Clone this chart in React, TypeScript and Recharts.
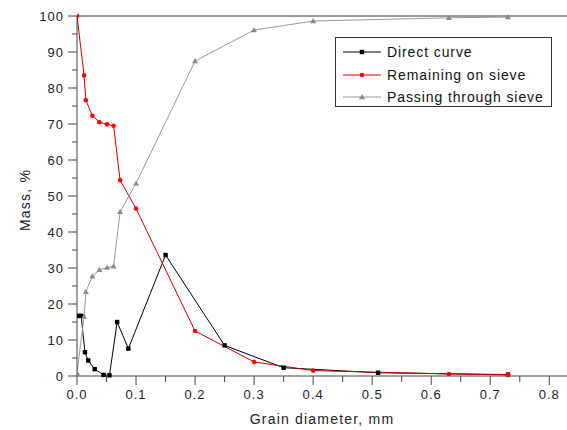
import React from "react";
import {
  LineChart,
  Line,
  XAxis,
  YAxis,
  ReferenceLine,
} from "recharts";

// grain diameter (mm) / mass (%)
const directX = [0.003, 0.007, 0.0135, 0.019, 0.03, 0.045, 0.055, 0.068, 0.087, 0.15, 0.25, 0.35, 0.51, 0.73];
const directY = [16.7, 16.7, 6.6, 4.3, 1.9, 0.3, 0.2, 15, 7.6, 33.6, 8.5, 2.3, 0.9, 0.4];

const sieveX = [0, 0.012, 0.015, 0.026, 0.038, 0.051, 0.062, 0.073, 0.1, 0.2, 0.3, 0.4, 0.63, 0.73];
const remainingY = [100, 83.5, 76.6, 72.3, 70.5, 69.9, 69.5, 54.4, 46.5, 12.5, 3.9, 1.5, 0.55, 0.3];
const passingY = [0.9, 16.5, 23.4, 27.7, 29.5, 30.1, 30.5, 45.6, 53.5, 87.5, 96.1, 98.6, 99.5, 99.7];

const xTicks = [0, 0.05, 0.1, 0.15, 0.2, 0.25, 0.3, 0.35, 0.4, 0.45, 0.5, 0.55, 0.6, 0.65, 0.7, 0.75, 0.8];
const yTicks = [0, 5, 10, 15, 20, 25, 30, 35, 40, 45, 50, 55, 60, 65, 70, 75, 80, 85, 90, 95, 100];

const direct = directX.map((x, i) => ({ x, y: directY[i] }));
const remaining = sieveX.map((x, i) => ({ x, y: remainingY[i] }));
const passing = sieveX.map((x, i) => ({ x, y: passingY[i] }));

const FONT = "'Liberation Sans', Arial, sans-serif";
const AXIS = "#444";

const series = [
  { name: "Direct curve", data: direct, color: "#000000", marker: "#000000", shape: "square" },
  { name: "Remaining on sieve", data: remaining, color: "#cc0000", marker: "#ff0000", shape: "circle" },
  { name: "Passing through sieve", data: passing, color: "#999999", marker: "#8a8a8a", shape: "triangle" },
];

function Marker({ cx, cy, shape, color }: any) {
  if (cx == null || cy == null) return null;
  if (shape === "square") return <rect x={cx - 2.2} y={cy - 2.2} width={4.4} height={4.4} fill={color} />;
  if (shape === "circle") return <circle cx={cx} cy={cy} r={2.3} fill={color} />;
  return <path d={`M${cx},${cy - 3} L${cx + 3},${cy + 2.2} L${cx - 3},${cy + 2.2} Z`} fill={color} />;
}

function XTick({ x, y, payload }: any) {
  const v = payload.value;
  const major = Math.round(v * 100) % 10 === 0;
  return (
    <g>
      <line x1={x} x2={x} y1={y} y2={y + (major ? 9 : 6)} stroke={AXIS} />
      {major && (
        <text x={x} y={y + 23} textAnchor="middle" fontSize={13} fill="#222" fontFamily={FONT} letterSpacing={1}>
          {v.toFixed(1)}
        </text>
      )}
    </g>
  );
}

function YTick({ x, y, payload }: any) {
  const v = payload.value;
  const major = v % 10 === 0;
  return (
    <g>
      <line x1={x - (major ? 9 : 5)} x2={x} y1={y} y2={y} stroke={AXIS} />
      {major && (
        <text x={x - 13} y={y + 4.5} textAnchor="end" fontSize={13} fill="#222" fontFamily={FONT} letterSpacing={1}>
          {v}
        </text>
      )}
    </g>
  );
}

function LegendBox() {
  return (
    <div
      style={{
        position: "absolute",
        left: 335,
        top: 37,
        border: "1px solid #333",
        background: "#fff",
        width: 217,
        height: 70,
        boxSizing: "border-box",
        padding: "3px 0 0 7px",
        fontFamily: FONT,
        fontSize: 14,
        letterSpacing: 0.9,
        color: "#111",
        whiteSpace: "nowrap",
      }}
    >
      {series.map((s) => (
        <div key={s.name} style={{ display: "flex", alignItems: "center", height: 22.5 }}>
          <svg width={40} height={10} style={{ marginRight: 4, flex: "none" }}>
            <line x1={0} x2={38} y1={5} y2={5} stroke={s.color} strokeWidth={1} />
            <Marker cx={19} cy={5} shape={s.shape} color={s.marker} />
          </svg>
          <span>{s.name}</span>
        </div>
      ))}
    </div>
  );
}

export default function App() {
  return (
    <div style={{ position: "absolute", left: 0, top: 0, width: 567, height: 430, background: "#fff" }}>
      <LineChart width={567} height={430} margin={{ top: 16, right: 0, bottom: 0, left: 0 }}>
        <XAxis
          type="number"
          dataKey="x"
          domain={[0, 0.83]}
          ticks={xTicks}
          allowDataOverflow
          height={54}
          tickSize={0}
          tickMargin={0}
          tickLine={false}
          stroke={AXIS}
          tick={<XTick />}
          interval={0}
        />
        <YAxis
          type="number"
          dataKey="y"
          domain={[0, 100]}
          ticks={yTicks}
          width={77}
          tickSize={0}
          tickMargin={0}
          tickLine={false}
          stroke={AXIS}
          tick={<YTick />}
          interval={0}
        />
        <ReferenceLine y={100} stroke="#333" />
        {series.map((s) => (
          <Line
            key={s.name}
            name={s.name}
            data={s.data}
            dataKey="y"
            type="linear"
            stroke={s.color}
            strokeWidth={1}
            isAnimationActive={false}
            dot={(p: any) => <Marker key={`${s.name}-${p.index}`} cx={p.cx} cy={p.cy} shape={s.shape} color={s.marker} />}
            activeDot={false}
          />
        ))}
      </LineChart>
      <LegendBox />
      <div
        style={{
          position: "absolute",
          left: 77,
          width: 490,
          top: 411,
          textAlign: "center",
          fontFamily: FONT,
          fontSize: 14,
          letterSpacing: 1.2,
          color: "#222",
        }}
      >
        Grain diameter, mm
      </div>
      <div
        style={{
          position: "absolute",
          left: 25,
          top: 200,
          transform: "translate(-50%, -50%) rotate(-90deg)",
          whiteSpace: "nowrap",
          fontFamily: FONT,
          fontSize: 14,
          letterSpacing: 1.2,
          color: "#222",
        }}
      >
        Mass, %
      </div>
    </div>
  );
}
